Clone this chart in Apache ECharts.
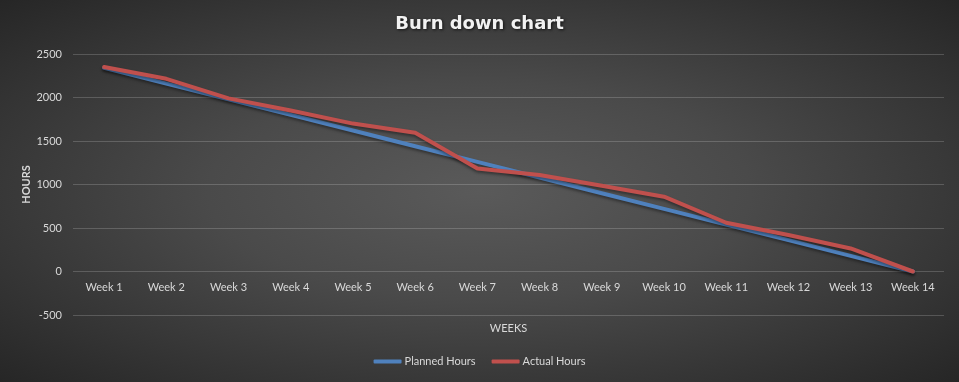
<!DOCTYPE html>
<html>
<head>
<meta charset="utf-8">
<script src="https://cdn.jsdelivr.net/npm/echarts@6/dist/echarts.min.js"></script>
<style>
html,body{margin:0;padding:0;background:#262626;}
#c{width:959px;height:382px;background:radial-gradient(ellipse at 50% 50%, #5a5a5a 0%, #4a4a4a 40%, #262626 100%);}
</style>
</head>
<body>
<div id="c"></div>
<script>
const categories = ['Week 1','Week 2','Week 3','Week 4','Week 5','Week 6','Week 7','Week 8','Week 9','Week 10','Week 11','Week 12','Week 13','Week 14'];
const plannedHours = [2340, 2160, 1980, 1800, 1620, 1440, 1260, 1080, 900, 720, 540, 360, 180, 0];
const actualHours = [2350, 2215, 1990, 1850, 1700, 1595, 1185, 1110, 985, 860, 560, 420, 265, 0];
const yTicks = {min: -500, max: 2500, interval: 500};

const chart = echarts.init(document.getElementById('c'));
const labelColor = '#d9d9d9';
const gridColor = 'rgba(255,255,255,0.18)';
const gridTop = 54, gridBottom = 67, chartH = 382;
// distance from the bottom of the plot to the zero line (in pixels), via the axis scale
const plotH = chartH - gridTop - gridBottom;
const zeroOffset = plotH * (0 - yTicks.min) / (yTicks.max - yTicks.min);

chart.setOption({
  backgroundColor: 'transparent',
  animation: false,
  title: {
    text: 'Burn down chart',
    left: 'center',
    top: 10,
    textStyle: {
      color: '#f2f2f2', fontFamily: 'DejaVu Sans', fontWeight: 'bold', fontSize: 18,
      textShadowColor: 'rgba(0,0,0,0.7)', textShadowBlur: 3, textShadowOffsetX: 1, textShadowOffsetY: 1
    }
  },
  grid: {left: 73, right: 15, top: gridTop, bottom: gridBottom, containLabel: false},
  legend: {
    bottom: 10,
    left: 'center',
    icon: 'roundRect',
    itemWidth: 28,
    itemHeight: 4,
    itemGap: 16,
    textStyle: {color: labelColor, fontFamily: 'Lato', fontSize: 11, padding: [0,0,0,-2]},
    data: ['Planned Hours', 'Actual Hours']
  },
  xAxis: {
    type: 'category',
    data: categories,
    boundaryGap: true,
    offset: -zeroOffset,
    name: 'WEEKS',
    nameLocation: 'middle',
    nameGap: 51,
    nameMoveOverlap: false,
    nameTextStyle: {color: labelColor, fontFamily: 'Lato', fontSize: 11},
    axisLine: {show: false},
    axisTick: {show: false},
    axisLabel: {color: labelColor, fontFamily: 'Lato', fontSize: 11, margin: 10},
    splitLine: {show: false}
  },
  yAxis: {
    type: 'value',
    min: yTicks.min,
    max: yTicks.max,
    interval: yTicks.interval,
    name: 'HOURS',
    nameLocation: 'middle',
    nameGap: 41,
    nameMoveOverlap: false,
    nameRotate: 90,
    nameTextStyle: {color: labelColor, fontFamily: 'Lato', fontWeight: 'bold', fontSize: 11},
    axisLine: {show: false},
    axisTick: {show: false},
    axisLabel: {color: labelColor, fontFamily: 'Lato', fontSize: 11, margin: 11, formatter: v => String(v)},
    splitLine: {show: true, lineStyle: {color: gridColor, width: 1}}
  },
  series: [
    {
      name: 'Planned Hours', type: 'line', data: plannedHours, symbol: 'none',
      lineStyle: {color: '#4f81bd', width: 4, cap: 'round', join: 'round', shadowColor: 'rgba(0,0,0,0.4)', shadowBlur: 3, shadowOffsetY: 2},
      itemStyle: {color: '#4f81bd'}
    },
    {
      name: 'Actual Hours', type: 'line', data: actualHours, symbol: 'none',
      lineStyle: {color: '#c0504d', width: 4, cap: 'round', join: 'round', shadowColor: 'rgba(0,0,0,0.4)', shadowBlur: 3, shadowOffsetY: 2},
      itemStyle: {color: '#c0504d'}
    }
  ]
});
</script>
</body>
</html>
